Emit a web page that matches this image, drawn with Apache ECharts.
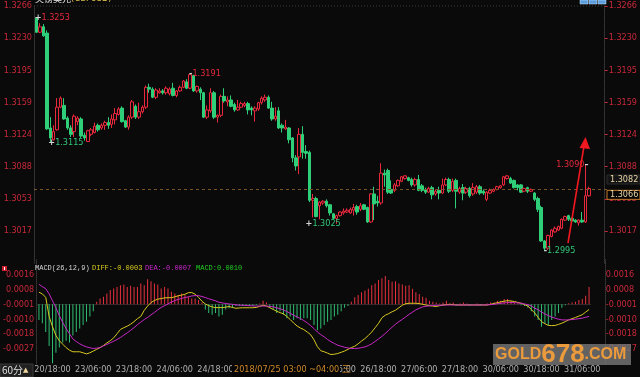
<!DOCTYPE html>
<html><head><meta charset="utf-8">
<script src="https://cdn.jsdelivr.net/npm/echarts@6/dist/echarts.min.js"></script>
<style>html,body{margin:0;padding:0;background:#0a0a0a;overflow:hidden}#c{width:640px;height:377px}</style>
</head><body><div id="c"></div>
<script>
// ---------- DATA ----------
const categories = [
'20/14:00','20/15:00','20/16:00','20/17:00','20/18:00','20/19:00','20/20:00','20/21:00','20/22:00','20/23:00',
'21/00:00','21/01:00','21/02:00','21/03:00','21/04:00',
'23/05:00','23/06:00','23/07:00','23/08:00','23/09:00','23/10:00','23/11:00','23/12:00','23/13:00','23/14:00','23/15:00','23/16:00','23/17:00','23/18:00','23/19:00','23/20:00','23/21:00','23/22:00','23/23:00',
'24/00:00','24/01:00','24/02:00','24/03:00','24/04:00','24/05:00','24/06:00','24/07:00','24/08:00','24/09:00','24/10:00','24/11:00','24/12:00','24/13:00','24/14:00','24/15:00','24/16:00','24/17:00','24/18:00','24/19:00','24/20:00','24/21:00','24/22:00','24/23:00',
'25/00:00','25/01:00','25/02:00','25/03:00','25/04:00','25/05:00','25/06:00','25/07:00','25/08:00','25/09:00','25/10:00','25/11:00','25/12:00','25/13:00','25/14:00','25/15:00','25/16:00','25/17:00','25/18:00','25/19:00','25/20:00','25/21:00','25/22:00','25/23:00',
'26/00:00','26/01:00','26/02:00','26/03:00','26/04:00','26/05:00','26/06:00','26/07:00','26/08:00','26/09:00','26/10:00','26/11:00','26/12:00','26/13:00','26/14:00','26/15:00','26/16:00','26/17:00','26/18:00','26/19:00','26/20:00','26/21:00','26/22:00','26/23:00',
'27/00:00','27/01:00','27/02:00','27/03:00','27/04:00','27/05:00','27/06:00','27/07:00','27/08:00','27/09:00','27/10:00','27/11:00','27/12:00','27/13:00','27/14:00','27/15:00','27/16:00','27/17:00','27/18:00','27/19:00','27/20:00','27/21:00','27/22:00','27/23:00',
'28/00:00','28/01:00','28/02:00','28/03:00','28/04:00',
'30/05:00','30/06:00','30/07:00','30/08:00','30/09:00','30/10:00','30/11:00','30/12:00','30/13:00','30/14:00','30/15:00','30/16:00','30/17:00','30/18:00','30/19:00','30/20:00','30/21:00','30/22:00','30/23:00',
'31/00:00','31/01:00','31/02:00','31/03:00','31/04:00','31/05:00','31/06:00','31/07:00','31/08:00'
];
const xTickLabels = ['20/18:00','23/06:00','23/18:00','24/06:00','24/18:00','25/06:00','25/18:00','26/06:00','26/18:00','27/06:00','27/18:00','30/06:00','30/18:00','31/06:00'];
const priceTickLabels = ['1.3266','1.3230','1.3195','1.3159','1.3124','1.3088','1.3053','1.3017'];
const macdTickLabels = ['0.0016','0.0008','-0.0001','-0.0010','-0.0018','-0.0027'];

// [open, close, low, high]
const ohlc = [
[1.3253,1.3237,1.3236,1.3253],[1.3237,1.3243,1.3236,1.3247],[1.3243,1.3233,1.3232,1.3246],[1.3236,1.3130,1.3129,1.3239],[1.3131,1.3120,1.3115,1.3143],
[1.3118,1.3127,1.3117,1.3134],[1.3129,1.3154,1.3128,1.3164],[1.3154,1.3164,1.3153,1.3166],[1.3156,1.3141,1.3140,1.3164],[1.3142,1.3131,1.3129,1.3144],
[1.3131,1.3124,1.3121,1.3134],[1.3127,1.3144,1.3121,1.3146],[1.3138,1.3142,1.3134,1.3144],[1.3141,1.3122,1.3120,1.3143],[1.3123,1.3120,1.3117,1.3126],
[1.3116,1.3128,1.3116,1.3129],[1.3124,1.3129,1.3122,1.3131],[1.3126,1.3133,1.3125,1.3137],[1.3134,1.3129,1.3127,1.3136],[1.3131,1.3134,1.3129,1.3136],
[1.3134,1.3137,1.3129,1.3139],[1.3137,1.3134,1.3130,1.3143],[1.3135,1.3141,1.3131,1.3146],[1.3140,1.3147,1.3135,1.3153],[1.3146,1.3152,1.3145,1.3154],
[1.3153,1.3138,1.3137,1.3155],[1.3139,1.3132,1.3131,1.3140],[1.3132,1.3143,1.3129,1.3145],[1.3143,1.3160,1.3141,1.3162],[1.3155,1.3143,1.3141,1.3157],
[1.3143,1.3149,1.3141,1.3159],[1.3149,1.3154,1.3147,1.3156],[1.3154,1.3176,1.3152,1.3178],[1.3176,1.3174,1.3170,1.3180],[1.3174,1.3165,1.3164,1.3176],
[1.3165,1.3173,1.3163,1.3175],[1.3170,1.3172,1.3169,1.3175],[1.3172,1.3170,1.3168,1.3174],[1.3170,1.3175,1.3168,1.3177],[1.3169,1.3174,1.3167,1.3176],
[1.3175,1.3167,1.3166,1.3181],[1.3167,1.3172,1.3165,1.3173],[1.3172,1.3176,1.3171,1.3178],[1.3176,1.3183,1.3175,1.3184],[1.3182,1.3175,1.3174,1.3185],
[1.3175,1.3190,1.3174,1.3191],[1.3189,1.3172,1.3171,1.3190],[1.3172,1.3177,1.3170,1.3178],[1.3174,1.3170,1.3162,1.3176],[1.3170,1.3143,1.3142,1.3171],
[1.3143,1.3151,1.3141,1.3156],[1.3150,1.3170,1.3148,1.3175],[1.3170,1.3143,1.3141,1.3172],[1.3143,1.3145,1.3137,1.3146],[1.3145,1.3166,1.3143,1.3168],
[1.3166,1.3161,1.3159,1.3175],[1.3160,1.3162,1.3155,1.3166],[1.3162,1.3155,1.3154,1.3167],[1.3157,1.3151,1.3149,1.3159],[1.3151,1.3154,1.3150,1.3162],
[1.3154,1.3158,1.3153,1.3160],[1.3156,1.3158,1.3154,1.3160],[1.3158,1.3151,1.3146,1.3160],[1.3153,1.3151,1.3145,1.3155],[1.3150,1.3153,1.3138,1.3155],
[1.3152,1.3159,1.3150,1.3160],[1.3159,1.3164,1.3157,1.3166],[1.3162,1.3165,1.3160,1.3168],[1.3165,1.3153,1.3152,1.3167],[1.3153,1.3141,1.3139,1.3160],
[1.3141,1.3144,1.3139,1.3154],[1.3150,1.3131,1.3130,1.3154],[1.3134,1.3131,1.3126,1.3136],[1.3130,1.3132,1.3129,1.3140],[1.3131,1.3118,1.3114,1.3132],
[1.3120,1.3098,1.3093,1.3121],[1.3098,1.3089,1.3084,1.3101],[1.3099,1.3124,1.3080,1.3131],[1.3124,1.3104,1.3097,1.3133],[1.3105,1.3103,1.3097,1.3112],
[1.3104,1.3051,1.3049,1.3106],[1.3051,1.3053,1.3032,1.3058],[1.3053,1.3033,1.3032,1.3055],[1.3045,1.3049,1.3030,1.3050],[1.3048,1.3050,1.3046,1.3051],
[1.3050,1.3045,1.3043,1.3052],[1.3046,1.3037,1.3034,1.3047],[1.3036,1.3031,1.3030,1.3037],[1.3031,1.3034,1.3025,1.3035],[1.3034,1.3038,1.3033,1.3039],
[1.3037,1.3039,1.3035,1.3042],[1.3038,1.3040,1.3037,1.3042],[1.3037,1.3041,1.3036,1.3043],[1.3040,1.3043,1.3034,1.3047],[1.3044,1.3038,1.3035,1.3046],
[1.3041,1.3045,1.3039,1.3048],[1.3046,1.3041,1.3040,1.3047],[1.3043,1.3027,1.3026,1.3044],[1.3027,1.3058,1.3026,1.3059],[1.3058,1.3047,1.3029,1.3066],
[1.3050,1.3048,1.3044,1.3056],[1.3048,1.3081,1.3046,1.3092],[1.3081,1.3079,1.3066,1.3085],[1.3084,1.3060,1.3058,1.3086],[1.3063,1.3059,1.3058,1.3073],
[1.3062,1.3068,1.3060,1.3070],[1.3067,1.3073,1.3066,1.3074],[1.3072,1.3077,1.3071,1.3078],[1.3075,1.3078,1.3074,1.3079],[1.3076,1.3073,1.3072,1.3077],
[1.3074,1.3068,1.3066,1.3076],[1.3068,1.3074,1.3066,1.3076],[1.3074,1.3062,1.3061,1.3079],[1.3067,1.3062,1.3060,1.3069],[1.3063,1.3060,1.3058,1.3065],
[1.3060,1.3064,1.3059,1.3066],[1.3065,1.3057,1.3052,1.3067],[1.3058,1.3061,1.3056,1.3063],[1.3062,1.3059,1.3052,1.3066],[1.3059,1.3068,1.3058,1.3075],
[1.3068,1.3074,1.3067,1.3076],[1.3074,1.3061,1.3059,1.3076],[1.3062,1.3072,1.3060,1.3075],[1.3073,1.3061,1.3042,1.3075],[1.3060,1.3064,1.3058,1.3066],
[1.3065,1.3059,1.3051,1.3069],[1.3060,1.3064,1.3058,1.3066],[1.3064,1.3056,1.3054,1.3066],[1.3058,1.3065,1.3056,1.3070],[1.3060,1.3066,1.3058,1.3068],
[1.3066,1.3059,1.3057,1.3068],[1.3061,1.3059,1.3057,1.3063],[1.3052,1.3060,1.3050,1.3061],[1.3059,1.3062,1.3058,1.3064],[1.3061,1.3063,1.3060,1.3064],
[1.3063,1.3066,1.3062,1.3067],[1.3065,1.3067,1.3064,1.3068],[1.3068,1.3077,1.3067,1.3078],[1.3075,1.3078,1.3074,1.3079],[1.3075,1.3070,1.3069,1.3077],
[1.3073,1.3065,1.3064,1.3074],[1.3068,1.3065,1.3062,1.3069],[1.3068,1.3060,1.3059,1.3069],[1.3061,1.3064,1.3060,1.3065],[1.3065,1.3061,1.3059,1.3066],
[1.3061,1.3063,1.3060,1.3064],[1.3059,1.3052,1.3050,1.3060],[1.3053,1.3041,1.3038,1.3055],[1.3043,1.3006,1.3005,1.3045],[1.3006,1.2998,1.2995,1.3007],
[1.2998,1.3012,1.2996,1.3013],[1.3011,1.3018,1.3010,1.3019],[1.3016,1.3020,1.3015,1.3022],[1.3018,1.3022,1.3017,1.3023],[1.3020,1.3030,1.3019,1.3031],
[1.3029,1.3033,1.3028,1.3034],[1.3034,1.3030,1.3028,1.3035],[1.3031,1.3028,1.3027,1.3032],[1.3029,1.3027,1.3026,1.3030],[1.3026,1.3029,1.3023,1.3030],
[1.3029,1.3027,1.3026,1.3038],[1.3027,1.3056,1.3026,1.3090],[1.3056,1.3064,1.3055,1.3066]
];

const macdHist = [
-0.0009,-0.0011,-0.0016,-0.0024,-0.0034,-0.0028,-0.0025,-0.0022,-0.0021,-0.0022,
-0.0018,-0.0016,-0.0014,-0.0012,-0.0010,-0.0007,-0.0004,0.00015,0.00034,0.00044,
0.00063,0.00082,0.00091,0.0010,0.0011,0.00114,0.0010,0.00107,0.0010,0.0010,
0.0012,0.0011,0.00145,0.00133,0.0012,0.00114,0.00091,0.0010,0.00091,0.00072,
0.00063,0.00053,0.00063,0.00053,0.00044,0.00034,0.00034,0.00025,0.0001,-0.0003,
-0.0005,-0.0006,-0.0005,-0.0007,-0.0006,-0.0003,-0.00023,-0.0002,-0.0001,-0.0001,
-0.0001,-0.00005,-0.0001,-0.0001,-0.00005,0.00005,0.0002,0.0001,-0.0002,-0.0003,
-0.0005,-0.0004,-0.0006,-0.0008,-0.0007,-0.0009,-0.0008,-0.0009,-0.0008,-0.0008,
-0.0009,-0.0012,-0.0015,-0.0014,-0.0012,-0.0010,-0.0009,-0.0007,-0.0006,-0.0004,
-0.0002,-0.0001,0.00015,0.0004,0.00053,0.0007,0.0008,0.0009,0.0011,0.0012,
0.0014,0.0015,0.00164,0.0014,0.0013,0.00133,0.0012,0.00114,0.00107,0.0011,
0.0009,0.0007,0.0006,0.00044,0.00038,0.0002,0.00015,0.0001,0.00005,0.0001,
0.0002,0.00005,0.0001,-0.00005,0.00005,0.0001,0.00005,-0.00005,0,0.00005,
-0.00005,0,0.00005,0.0001,0.0001,0.0002,0.0002,0.0003,0.0003,0.0002,
0.0001,0.00005,-0.00005,-0.0001,-0.0002,-0.0004,-0.0007,-0.0009,-0.0013,-0.0011,
-0.0012,-0.0009,-0.0007,-0.0005,-0.0002,-0.00005,0.00006,0.0001,0.00015,0.00025,
0.0003,0.0005,0.0010
];

const macdDiff = [
0.0007,0.0006,0.0004,-0.0007,-0.0013,-0.0018,-0.0021,-0.0023,-0.0025,-0.00265,
-0.00274,-0.00274,-0.00274,-0.0028,-0.00286,-0.0028,-0.0027,-0.0026,-0.0025,-0.00238,
-0.00223,-0.0021,-0.00194,-0.0017,-0.00145,-0.00135,-0.00126,-0.00115,-0.0010,-0.00083,
-0.0007,-0.00035,-0.0001,0.0001,0.00022,0.0003,0.00033,0.00037,0.00038,0.00038,
0.00043,0.00049,0.00053,0.00058,0.00067,0.00068,0.00058,0.0004,0.00018,0.00002,
-0.00008,-0.00015,-0.00019,-0.00019,-0.00019,-0.00016,-0.00013,-0.00018,-0.00023,-0.00021,
-0.0002,-0.0002,-0.0002,-0.0002,-0.00018,-0.00012,-0.00005,-0.0001,-0.0002,-0.0003,
-0.0004,-0.00048,-0.00055,-0.0007,-0.00088,-0.00108,-0.00125,-0.00137,-0.00146,-0.0016,
-0.00175,-0.00205,-0.00245,-0.00268,-0.00274,-0.00282,-0.0029,-0.00288,-0.00284,-0.00277,
-0.0027,-0.0026,-0.0025,-0.00242,-0.00228,-0.00212,-0.00198,-0.0018,-0.0016,-0.00135,
-0.0011,-0.00078,-0.00063,-0.00054,-0.00043,-0.00034,-0.0002,-0.00005,0.00003,0.00006,
0.00006,0.00006,0.00004,0,-0.00004,-0.00008,-0.0001,-0.00013,-0.00008,-0.00004,
-0.00002,0,-0.00002,-0.00004,-0.00004,-0.00004,-0.00004,-0.00004,-0.00004,-0.00004,
-0.00004,-0.00004,-0.00004,0,0.00005,0.00009,0.00014,0.00018,0.00021,0.00019,
0.00016,0.00011,0.00006,-0.00002,-0.0001,-0.0003,-0.0005,-0.00075,-0.001,-0.00112,
-0.00122,-0.00123,-0.00122,-0.00116,-0.00109,-0.001,-0.0009,-0.00083,-0.00076,-0.00068,
-0.0006,-0.00045,-0.0003
];

const macdDea = [
0.00115,0.00102,0.0009,0.0006,0.0002,-0.0002,-0.00065,-0.00105,-0.0014,-0.0017,
-0.002,-0.00215,-0.00228,-0.00238,-0.00246,-0.00251,-0.00255,-0.00253,-0.0025,-0.0024,
-0.00232,-0.00222,-0.00213,-0.00203,-0.00192,-0.00178,-0.00165,-0.0015,-0.00135,-0.00118,
-0.00103,-0.00088,-0.00076,-0.00061,-0.00047,-0.00032,-0.00018,-0.00008,0.00002,0.00013,
0.00022,0.00028,0.00034,0.00039,0.00043,0.00048,0.0005,0.0005,0.00045,0.00039,
0.00032,0.00026,0.0002,0.00012,0.00008,0.00005,0.00002,0,-0.00003,-0.00005,
-0.00006,-0.00007,-0.00008,-0.00009,-0.0001,-0.0001,-0.0001,-0.0001,-0.00012,-0.00015,
-0.0002,-0.00026,-0.00032,-0.00042,-0.00052,-0.00063,-0.00073,-0.00082,-0.00094,-0.00107,
-0.00123,-0.0014,-0.0016,-0.00175,-0.00188,-0.00203,-0.00216,-0.00226,-0.00236,-0.00242,
-0.00248,-0.00252,-0.00255,-0.00255,-0.00254,-0.0025,-0.00246,-0.00238,-0.00228,-0.00214,
-0.002,-0.00185,-0.00168,-0.0015,-0.00132,-0.00115,-0.001,-0.00087,-0.00073,-0.00058,
-0.00045,-0.00032,-0.00023,-0.00015,-0.00011,-0.00009,-0.00007,-0.00006,-0.00005,-0.00005,
-0.00004,-0.00004,-0.00004,-0.00004,-0.00004,-0.00004,-0.00004,-0.00004,-0.00004,-0.00004,
-0.00004,-0.00004,-0.00003,-0.00002,0,0.00003,0.00006,0.00008,0.0001,0.0001,
0.0001,0.00008,0.00006,0.00002,-0.00002,-0.0001,-0.00022,-0.00032,-0.00044,-0.00056,
-0.00065,-0.00074,-0.0008,-0.00086,-0.0009,-0.0009,-0.0009,-0.00088,-0.00086,-0.00083,
-0.0008,-0.00075,-0.0007
];

// extreme-price annotations (candle index, price)
const extremes = [
  {i:0,   v:1.3253, high:true,  mark:'+', pos:'pre',  align:'left',  dx:-2},
  {i:45,  v:1.3191, high:true,  mark:'-', pos:'pre',  align:'left',  dx:-1},
  {i:4,   v:1.3115, high:false, mark:'+', pos:'pre',  align:'left',  dx:-2},
  {i:88,  v:1.3025, high:false, mark:'+', pos:'pre',  align:'right', dx:4},
  {i:161, v:1.3090, high:true,  mark:'\u2013', pos:'post', align:'right', dx:3},
  {i:149, v:1.2995, high:false, mark:'-', pos:'pre',  align:'left',  dx:-1}
];
const lastPrice = 1.3064;
const priceTags = [
  {text:'1.3082', value:1.3074, fill:'#141414', stroke:'#2c2c2c'},
  {text:'1.3066', value:1.3057, fill:'#050505', stroke:'#c87a2a'}
];
const macdTitle = [
  {text:'MACD(26,12,9)', color:'#d8d8d8', x:35},
  {text:'DIFF:-0.0003',  color:'#d8cc20', x:92},
  {text:'DEA:-0.0007',   color:'#d028d0', x:145},
  {text:'MACD:0.0010',   color:'#20d020', x:196}
];

// ---------- STYLE ----------
const BG = '#0a0a0a', RED = '#e8283c', GREEN = '#2ecf78', AXIS_RED = '#c8283a';
const FONT = '"Liberation Sans Narrow","DejaVu Sans Condensed","Liberation Sans",sans-serif';
const I_P = 1.3266 / 373, P_MIN = 365 * I_P, P_MAX = 373 * I_P;
const I_M = 0.00086, M_MIN = -4 * I_M, M_MAX = 3 * I_M;

function priceLabel(v){ const k = Math.round((P_MAX - v) / I_P); return priceTickLabels[k] || ''; }
function macdLabel(v){ const k = 2 - Math.round(v / I_M); return macdTickLabels[k] || ''; }

const axisLineStyle = {show:true, lineStyle:{color:'#3a3a3a', type:'dotted', width:1}};
const chart = echarts.init(document.getElementById('c'), null, {renderer:'canvas'});
const option = {
  backgroundColor: BG,
  animation: false,
  grid: [
    {left:35, right:47, top:6, height:257.1},
    {left:35, right:47, top:259.6, height:104.3}
  ],
  xAxis: [
    {type:'category', gridIndex:0, data:categories, boundaryGap:true, show:false},
    {type:'category', gridIndex:1, data:categories, boundaryGap:true,
     axisLine:{show:true, lineStyle:{color:'#2a2a2a'}}, axisTick:{show:false}, splitLine:{show:false},
     axisLabel:{color:'#b0b0b0', fontSize:9, fontFamily:FONT, margin:1,
       interval:(i, v) => xTickLabels.indexOf(v) >= 0}}
  ],
  yAxis: [
    {type:'value', gridIndex:0, position:'left', min:P_MIN, max:P_MAX, interval:I_P, offset:1,
     axisLine:axisLineStyle, axisTick:{show:false}, splitLine:{show:false},
     axisLabel:{color:AXIS_RED, fontSize:9, fontFamily:FONT, margin:2, showMinLabel:false, formatter:priceLabel}},
    {type:'value', gridIndex:0, position:'right', min:P_MIN, max:P_MAX, interval:I_P, offset:14,
     axisLine:axisLineStyle, axisTick:{show:true, length:3, lineStyle:{color:AXIS_RED}}, splitLine:{show:false},
     axisLabel:{color:AXIS_RED, fontSize:9, fontFamily:FONT, margin:4, showMinLabel:false, formatter:priceLabel}},
    {type:'value', gridIndex:1, position:'left', min:M_MIN, max:M_MAX, interval:I_M, offset:1,
     axisLine:axisLineStyle, axisTick:{show:false}, splitLine:{show:false},
     axisLabel:{color:AXIS_RED, fontSize:9, fontFamily:FONT, margin:2, showMinLabel:false, showMaxLabel:false, formatter:macdLabel}},
    {type:'value', gridIndex:1, position:'right', min:M_MIN, max:M_MAX, interval:I_M, offset:14,
     axisLine:axisLineStyle, axisTick:{show:false}, splitLine:{show:false},
     axisLabel:{color:AXIS_RED, fontSize:9, fontFamily:FONT, margin:1, showMinLabel:false, showMaxLabel:false, formatter:macdLabel}}
  ],
  series: [
    {type:'candlestick', xAxisIndex:0, yAxisIndex:0, data:ohlc, barWidth:3,
     itemStyle:{color:BG, color0:GREEN, borderColor:RED, borderColor0:GREEN, borderWidth:1}},
    {type:'bar', xAxisIndex:1, yAxisIndex:2, data:macdHist, barWidth:1,
     itemStyle:{color:p => p.value >= 0 ? '#e8303e' : '#2fbf72'}},
    {type:'line', xAxisIndex:1, yAxisIndex:2, data:macdDiff, symbol:'none', lineStyle:{color:'#d8c820', width:1}},
    {type:'line', xAxisIndex:1, yAxisIndex:2, data:macdDea, symbol:'none', lineStyle:{color:'#c828c8', width:1}}
  ]
};
chart.setOption(option);

// ---------- overlay elements anchored through the chart's scales ----------
const g = [];
const yTop = chart.convertToPixel({yAxisIndex:0}, P_MAX);
g.push({type:'line', shape:{x1:34, y1:yTop, x2:607, y2:yTop}, style:{stroke:'#3a3a3a', lineDash:[1,2]}, silent:true});

// current-price dashed line
const yLast = Math.round(chart.convertToPixel({yAxisIndex:0}, lastPrice)) + 0.5;
g.push({type:'line', shape:{x1:34, y1:yLast, x2:607, y2:yLast}, style:{stroke:'#7a5228', lineDash:[3,3], lineWidth:1}, z:5, silent:true});

extremes.forEach(m => {
  const p = chart.convertToPixel({gridIndex:0}, [m.i, m.v]);
  const col = m.high ? '#e8283c' : '#30c878';
  const t = m.v.toFixed(4);
  const str = m.pos === 'pre' ? '{m|' + m.mark + '}{v|' + t + '}' : '{v|' + t + '}{m|' + m.mark + '}';
  g.push({type:'text', x:p[0] + m.dx, y:p[1], z:50, silent:true,
    style:{text:str, align:m.align, verticalAlign:'middle', font:'9px ' + FONT,
      rich:{m:{fill:'#d8d8d8', font:'bold 9px ' + FONT}, v:{fill:col, font:'9px ' + FONT}}}});
});

// hand-drawn red arrow annotation (upward)
g.push({type:'line', shape:{x1:568, y1:243, x2:584, y2:146}, style:{stroke:'#f01820', lineWidth:1.6}, z:55, silent:true});
g.push({type:'polygon', shape:{points:[[585.5,137],[579.5,148],[590,149]]}, style:{fill:'#f01820'}, z:55, silent:true});

priceTags.forEach(t => {
  const y = chart.convertToPixel({yAxisIndex:1}, t.value);
  g.push({type:'rect', shape:{x:607, y:y - 4.5, width:33, height:9}, style:{fill:t.fill, stroke:t.stroke, lineWidth:1}, z:50, silent:true});
  g.push({type:'text', x:610, y:y, z:51, silent:true, style:{text:t.text, fill:'#e8d4a8', font:'9px ' + FONT, verticalAlign:'middle'}});
});

macdTitle.forEach(t => {
  g.push({type:'text', x:t.x, y:268, z:50, silent:true, style:{text:t.text, fill:t.color, font:'7px "Liberation Mono","DejaVu Sans Mono",monospace', verticalAlign:'middle'}});
});
g.push({type:'rect', shape:{x:2, y:266, width:5, height:5}, style:{fill:'#c82030'}, z:50, silent:true});
g.push({type:'rect', shape:{x:4, y:267, width:1, height:3}, style:{fill:'#ffffff'}, z:51, silent:true});

// top title (clipped at the top edge)
g.push({type:'text', x:35, y:3, z:50, silent:true, style:{text:'{a|英镑美元}{b|(GBPUSD)}', verticalAlign:'bottom',
  rich:{a:{fill:'#e8e8e8', font:'9px "Noto Sans CJK SC",sans-serif'}, b:{fill:'#e0c050', font:'9px ' + FONT}}}});
// top right icons
[580, 589, 598].forEach(x => g.push({type:'rect', shape:{x:x, y:0, width:8, height:4}, style:{fill:'#5a9ee0', stroke:'#cfe4f8', lineWidth:0.5}, z:50, silent:true}));

// bottom-left period box
g.push({type:'rect', shape:{x:0, y:364, width:33, height:13}, style:{fill:'#202020', stroke:'#3a3a3a'}, z:50, silent:true});
g.push({type:'text', x:2, y:370.5, z:51, silent:true, style:{text:'60分', fill:'#e0e0e0', font:'10px "Noto Sans CJK SC",sans-serif', verticalAlign:'middle'}});
g.push({type:'text', x:23, y:370.5, z:51, silent:true, style:{text:'▲', fill:'#f0d8a0', font:'7px "DejaVu Sans",sans-serif', verticalAlign:'middle'}});

// time tooltip box on the axis
g.push({type:'rect', shape:{x:232, y:364, width:108, height:13}, style:{fill:'#050505'}, z:50, silent:true});
g.push({type:'text', x:234, y:369.5, z:51, silent:true, style:{text:'2018/07/25 03:00 ~04:00 三', fill:'#d08a2a', font:'9px ' + FONT, verticalAlign:'middle'}});

// watermark
g.push({type:'rect', shape:{x:493, y:344, width:138, height:21}, style:{fill:'rgba(118,118,118,0.82)'}, z:60, silent:true});
g.push({type:'text', x:495, y:355, z:61, silent:true, style:{text:'{a|GOLD}{b|678}{a|.COM}', verticalAlign:'middle',
  rich:{a:{fill:'#eb9a3c', font:'bold 16px "Liberation Sans",sans-serif'}, b:{fill:'#eb9a3c', font:'bold 26px "Liberation Sans",sans-serif'}}}});

chart.setOption({graphic:g});
</script>
</body></html>
